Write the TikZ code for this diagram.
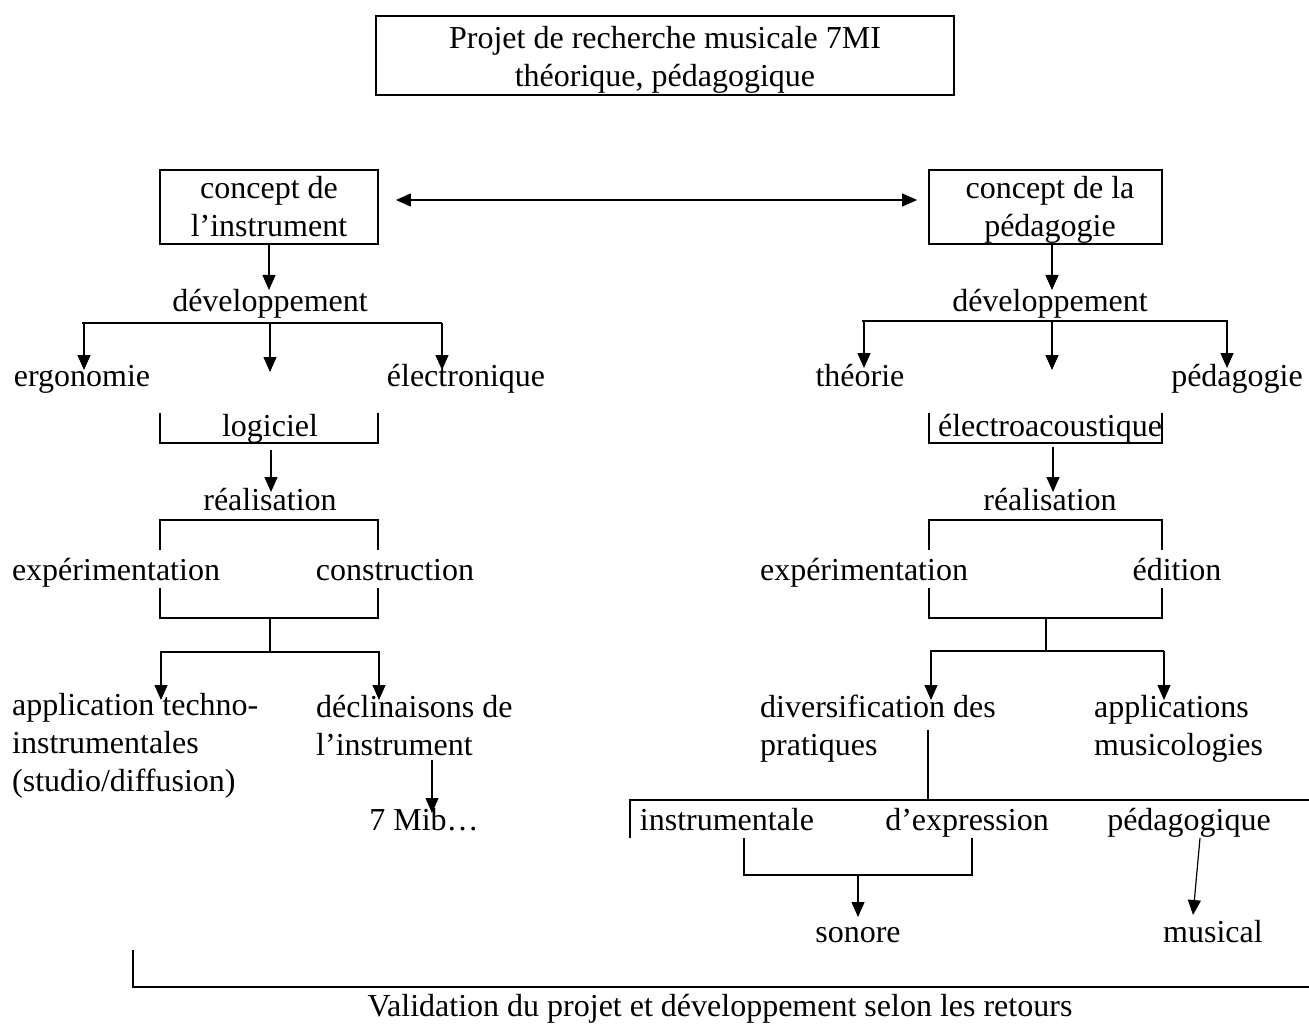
\documentclass[tikz,border=0pt]{standalone}
\usepackage{fontspec}
\setmainfont{Liberation Serif}
\usetikzlibrary{arrows.meta}
\begin{document}
\begin{tikzpicture}[x=1pt,y=-1pt,
  lbl/.style={inner sep=0pt, font=\fontsize{32}{38}\selectfont},
  ml/.style={lbl, align=left},
  mc/.style={lbl, align=center},
  frame/.style={draw, line width=1.8pt},
  link/.style={line width=1.2pt},
  tip/.tip={Triangle[length=15pt,width=13pt]},
  arr/.style={link, -tip},
  darr/.style={link, tip-tip}]
\useasboundingbox (0,0) rectangle (1309,1024);

% project title
\node[frame, minimum width=578pt, minimum height=79pt] (titlebox) at (665,55.5) {};
\node[mc, anchor=base] (title) at (665,87)
  {Projet de recherche musicale 7MI\\théorique, pédagogique};

% the two concepts
\node[frame, minimum width=218pt, minimum height=74pt] (ci) at (269,207) {};
\node[mc, anchor=base] (citext) at (269,237) {concept de\\l’instrument};
\node[frame, minimum width=233pt, minimum height=74pt] (cp) at (1045.5,207) {};
\node[mc, anchor=base] (cptext) at (1050,237) {concept de la\\pédagogie};
\draw[darr] ([xshift=17pt,yshift=7pt]ci.east) -- ([xshift=-11pt,yshift=7pt]cp.west);

% ---------------- instrument branch ----------------
\node[lbl, anchor=base] (devI) at (270,312) {développement};
\coordinate (devItip) at (269,290);
\draw[arr] (ci.south) -- (devItip);

\coordinate (barIl) at (82,323);
\coordinate (barIr) at (442,323);
\draw[link] (barIl) -- (barIr);
\draw[arr] (84,323) -- (84,370);
\draw[arr] (270,323) -- (270,372);
\draw[arr] (442,323) -- (442,370);
\node[lbl, anchor=base] (ergo) at (82,386) {ergonomie};
\node[lbl, anchor=base] (elec) at (466,386) {électronique};

\node[lbl, anchor=base] (logi) at (270,436) {logiciel};
\draw[frame] (160,413) -- (160,443) -- (378,443) -- (378,413);

\node[lbl, anchor=base] (realI) at (270,510) {réalisation};
\draw[arr] (271,450) -- (271,492);

\draw[frame] (160,550) -- (160,520) -- (378,520) -- (378,550);
\node[lbl, anchor=base] (expI) at (116,580) {expérimentation};
\node[lbl, anchor=base] (cons) at (395,580) {construction};
\draw[frame] (160,588) -- (160,618) -- (378,618) -- (378,588);
\coordinate (joinI) at (270,618);
\coordinate (forkI) at (270,652);
\draw[frame] (joinI) -- (forkI);
\draw[link] (160,652) -- (380,652);
\draw[arr] (161,652) -- (161,700);
\draw[arr] (379,652) -- (379,700);

\node[ml, anchor=base west] (appl) at (12,791)
  {application techno-\\instrumentales\\(studio/diffusion)};
\node[ml, anchor=base west] (decl) at (316,755)
  {déclinaisons de\\l’instrument};
\node[lbl, anchor=base] (mib) at (424,830) {7 Mib…};
\draw[arr] (432,760) -- (432,813);

% ---------------- pedagogy branch ----------------
\node[lbl, anchor=base] (devP) at (1050,312) {développement};
\coordinate (devPtip) at (1052,290);
\draw[arr] (cp.south -| devPtip) -- (devPtip);

\draw[link] (862,321) -- (1228,321);
\draw[arr] (864,321) -- (864,368);
\draw[arr] (1052,321) -- (1052,370);
\draw[arr] (1227,321) -- (1227,368);
\node[lbl, anchor=base] (theo) at (860,386) {théorie};
\node[lbl, anchor=base] (peda) at (1237,386) {pédagogie};

\node[lbl, anchor=base] (eaco) at (1050,436) {électroacoustique};
\draw[frame] (929,413) -- (929,443) -- (1162,443) -- (1162,413);

\node[lbl, anchor=base] (realP) at (1050,510) {réalisation};
\draw[arr] (1053,447) -- (1053,492);

\draw[frame] (929,550) -- (929,520) -- (1162,520) -- (1162,550);
\node[lbl, anchor=base] (expP) at (864,580) {expérimentation};
\node[lbl, anchor=base] (edit) at (1177,580) {édition};
\draw[frame] (929,588) -- (929,618) -- (1162,618) -- (1162,588);
\coordinate (joinP) at (1046,618);
\coordinate (forkP) at (1046,651);
\draw[frame] (joinP) -- (forkP);
\draw[frame] (930,651) -- (1164,651);
\draw[arr] (931,651) -- (931,700);
\draw[arr] (1164,651) -- (1164,700);

\node[ml, anchor=base west] (dive) at (760,755)
  {diversification des\\pratiques};
\node[ml, anchor=base west] (musi) at (1094,755)
  {applications\\musicologies};

\draw[link] (928,730) -- (928,800);
\draw[frame] (630,838) -- (630,800) -- (1309,800);
\node[lbl, anchor=base] (inst) at (727,830) {instrumentale};
\node[lbl, anchor=base] (expr) at (967,830) {d’expression};
\node[lbl, anchor=base] (pedq) at (1189,830) {pédagogique};

\draw[frame] (744,838) -- (744,875) -- (972,875) -- (972,838);
\node[lbl, anchor=base] (sono) at (858,942) {sonore};
\node[lbl, anchor=base] (musc) at (1213,942) {musical};
\draw[arr] (858,875) -- (858,917);
\draw[arr] (1200,838) -- (1193,915);

% feedback loop
\draw[frame] (133,950) -- (133,987) -- (1309,987);
\node[lbl, anchor=base] (vali) at (720,1016)
  {Validation du projet et développement selon les retours};
\end{tikzpicture}
\end{document}
